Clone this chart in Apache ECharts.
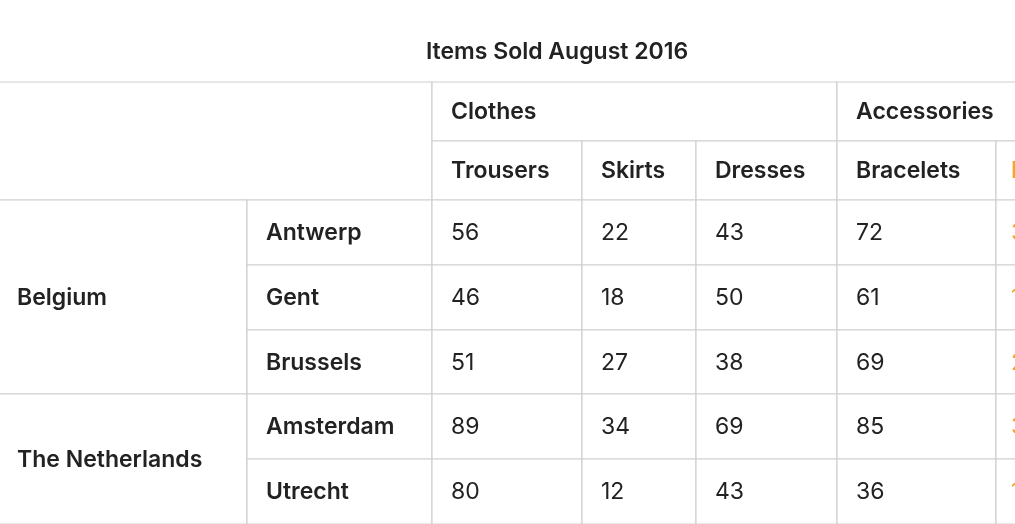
<!DOCTYPE html>
<html>
<head>
<meta charset="utf-8">
<script src="https://cdn.jsdelivr.net/npm/echarts@6/dist/echarts.min.js"></script>
<style>html,body{margin:0;padding:0;background:#fff}#main{width:1015px;height:524px}</style>
</head>
<body>
<div id="main"></div>
<script>
// table content
var groups = ['Clothes', 'Accessories'];
var products = ['Trousers', 'Skirts', 'Dresses', 'Bracelets', 'Earrings'];
var countries = ['Belgium', 'The Netherlands'];
var cities = ['Antwerp', 'Gent', 'Brussels', 'Amsterdam', 'Utrecht'];
var sales = [
    [56, 22, 43, 72, 32],
    [46, 18, 50, 61, 16],
    [51, 27, 38, 69, 23],
    [89, 34, 69, 85, 34],
    [80, 12, 43, 36, 19]
];

// layout (column / row edges)
var colEdges = [-2, 247, 432, 582, 696, 837, 996, 1160];
var rowEdges = [82, 141, 200, 265, 330, 394, 459, 524];

var cells = [];
function cell(c0, c1, r0, r1, text, bold, color) {
    cells.push([colEdges[c0], colEdges[c1], rowEdges[r0], rowEdges[r1], text, bold ? 1 : 0, color || '#222']);
}
cell(0, 2, 0, 2, '', 1);
cell(2, 5, 0, 1, groups[0], 1);
cell(5, 7, 0, 1, groups[1], 1);
products.forEach(function (p, i) {
    cell(2 + i, 3 + i, 1, 2, p, 1, i === 4 ? '#f5a623' : null);
});
cell(0, 1, 2, 5, countries[0], 1);
cell(0, 1, 5, 7, countries[1], 1);
cities.forEach(function (c, r) {
    cell(1, 2, 2 + r, 3 + r, c, 1);
    sales[r].forEach(function (v, i) {
        cell(2 + i, 3 + i, 2 + r, 3 + r, String(v), 0, i === 4 ? '#f5a623' : null);
    });
});

var myChart = echarts.init(document.getElementById('main'));
var option = {
    animation: false,
    title: {
        text: 'Items Sold August 2016',
        left: 552, top: 36, textAlign: 'center',
        textStyle: {fontFamily: 'Inter', fontSize: 23, fontWeight: 600, color: '#222'}
    },
    grid: {left: 0, right: 0, top: 0, bottom: 0},
    xAxis: {type: 'value', min: 0, max: 1015, show: false},
    yAxis: {type: 'value', min: 0, max: 524, inverse: true, show: false},
    series: [{
        type: 'custom',
        clip: false,
        data: cells,
        encode: {x: [0, 1], y: [2, 3]},
        renderItem: function (params, api) {
            var p0 = api.coord([api.value(0), api.value(2)]);
            var p1 = api.coord([api.value(1), api.value(3)]);
            var d = cells[params.dataIndex];
            var pad = d[6] === '#222' ? 19 : 15;
            return {
                type: 'group',
                children: [{
                    type: 'rect',
                    shape: {x: p0[0], y: p0[1], width: p1[0] - p0[0], height: p1[1] - p0[1]},
                    style: {fill: '#fff', stroke: '#d0d0d0', lineWidth: 1.2}
                }, {
                    type: 'text',
                    style: {
                        text: d[4], x: p0[0] + pad, y: (p0[1] + p1[1]) / 2 + 1,
                        verticalAlign: 'middle', align: 'left',
                        fontFamily: 'Inter', fontSize: 23,
                        fontWeight: d[5] ? 600 : 400, fill: d[6]
                    }
                }]
            };
        }
    }]
};
myChart.setOption(option);
</script>
</body>
</html>
